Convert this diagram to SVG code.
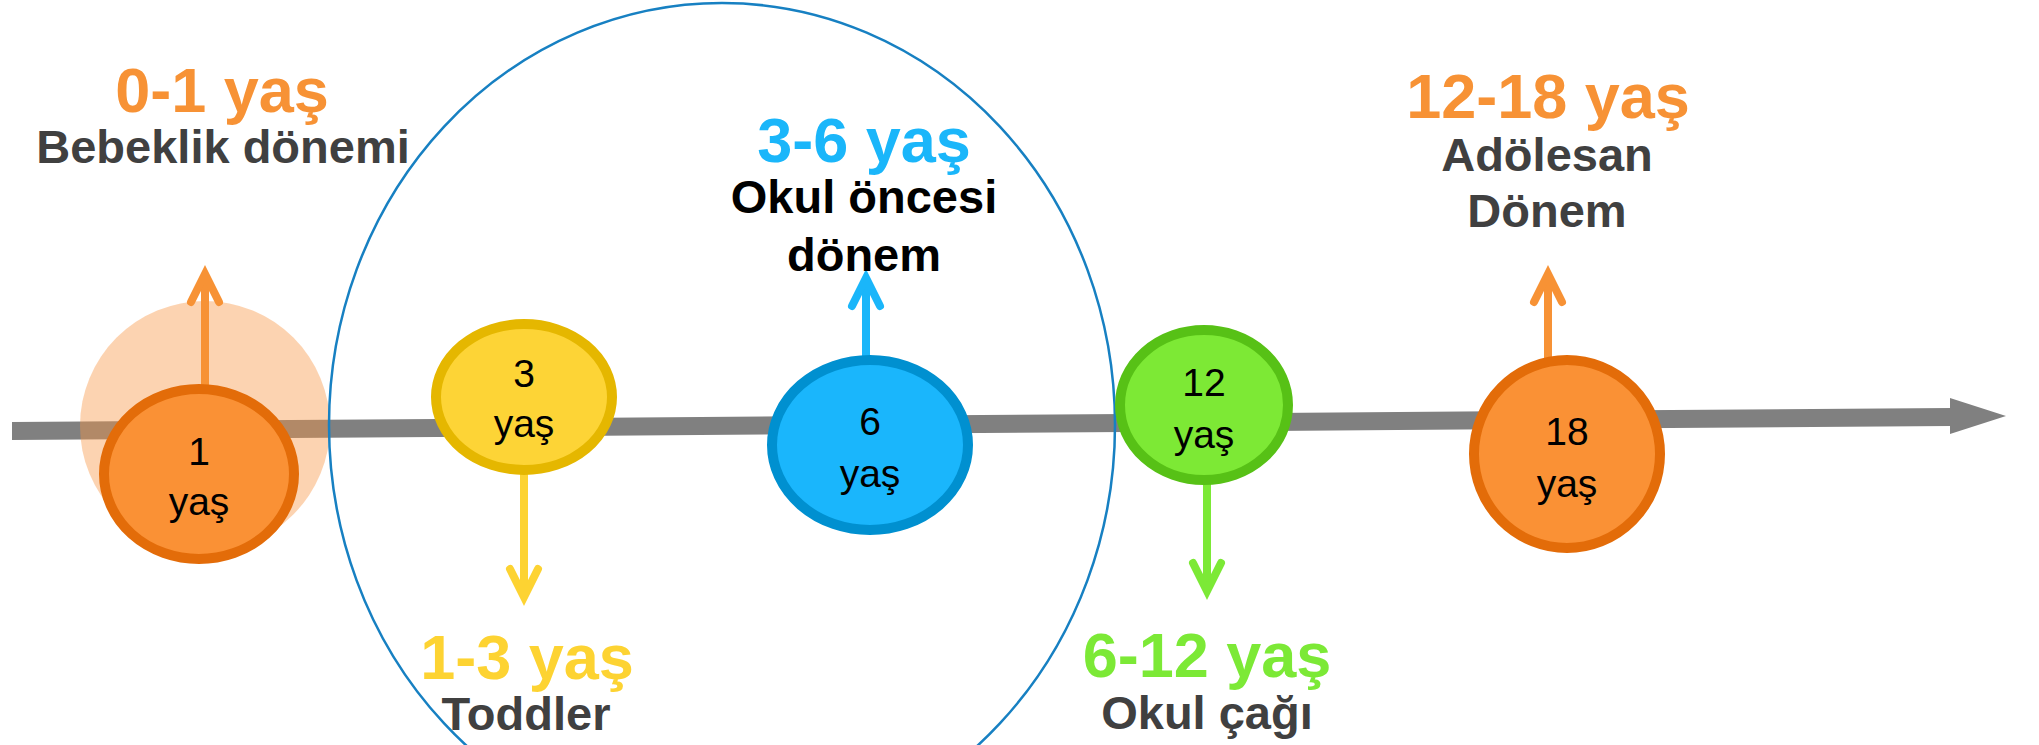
<svg xmlns="http://www.w3.org/2000/svg" width="2039" height="745" viewBox="0 0 2039 745">
  <style>
    text { font-family: "Liberation Sans", Arial, sans-serif; text-anchor: middle; }
    .range { font-size: 63px; font-weight: bold; }
    .title { font-size: 47px; font-weight: bold; fill: #404040; }
    .title.black { fill: #000000; }
    .age { font-size: 39px; fill: #000000; }
    .node { stroke-width: 10; }
    .pointer { fill: none; stroke-width: 8; stroke-linecap: butt; }
    .orange { fill: #F79235; }
    .yellow { fill: #FDD332; }
    .blue { fill: #1AB6FA; }
    .green { fill: #7CE936; }
  </style>
  <defs>
    <marker id="head-orange" markerUnits="userSpaceOnUse" viewBox="-40 -25 50 50" markerWidth="50" markerHeight="50" refX="0" refY="0" orient="auto">
      <path d="M -28 -14 L 0 0 L -28 14" fill="none" stroke="#F79235" stroke-width="8" stroke-linecap="round"/>
    </marker>
    <marker id="head-yellow" markerUnits="userSpaceOnUse" viewBox="-40 -25 50 50" markerWidth="50" markerHeight="50" refX="0" refY="0" orient="auto">
      <path d="M -28 -14 L 0 0 L -28 14" fill="none" stroke="#FDD332" stroke-width="8" stroke-linecap="round"/>
    </marker>
    <marker id="head-blue" markerUnits="userSpaceOnUse" viewBox="-40 -25 50 50" markerWidth="50" markerHeight="50" refX="0" refY="0" orient="auto">
      <path d="M -28 -14 L 0 0 L -28 14" fill="none" stroke="#1AB6FA" stroke-width="8" stroke-linecap="round"/>
    </marker>
    <marker id="head-green" markerUnits="userSpaceOnUse" viewBox="-40 -25 50 50" markerWidth="50" markerHeight="50" refX="0" refY="0" orient="auto">
      <path d="M -28 -14 L 0 0 L -28 14" fill="none" stroke="#7CE936" stroke-width="8" stroke-linecap="round"/>
    </marker>
  </defs>

  <rect width="2039" height="745" fill="#FFFFFF"/>

  <!-- timeline axis -->
  <g id="timeline">
    <path d="M 12 422 L 1951 408 L 1951 426 L 12 440 Z" fill="#808080"/>
    <polygon points="1950,398 2006,416 1950,434" fill="#808080"/>
  </g>

  <!-- soft halo around the first year -->
  <circle id="infancy-halo" cx="205" cy="426" r="125" fill="#F79646" fill-opacity="0.42"/>

  <!-- pre-school outline spanning ages 1 to 12 -->
  <ellipse id="preschool-outline" cx="722" cy="425" rx="393" ry="422" fill="none" stroke="#1780C2" stroke-width="2.5"/>

  <!-- connectors from milestones to their labels -->
  <g id="connectors">
    <path class="pointer" d="M 205 386 V 274" stroke="#F79235" marker-end="url(#head-orange)"/>
    <path class="pointer" d="M 524 472 V 597" stroke="#FDD332" marker-end="url(#head-yellow)"/>
    <path class="pointer" d="M 866 360 V 278" stroke="#1AB6FA" marker-end="url(#head-blue)"/>
    <path class="pointer" d="M 1207 477 V 591" stroke="#7CE936" marker-end="url(#head-green)"/>
    <path class="pointer" d="M 1548 360 V 274" stroke="#F79235" marker-end="url(#head-orange)"/>
  </g>

  <!-- milestone nodes -->
  <g id="node-1">
    <ellipse class="node" cx="199" cy="474" rx="95" ry="85" fill="#FA9135" stroke="#E36C09"/>
    <text class="age" x="199" y="465">1</text>
    <text class="age" x="199" y="515">yaş</text>
  </g>
  <g id="node-3">
    <ellipse class="node" cx="524" cy="397" rx="88" ry="73" fill="#FDD436" stroke="#E5B700"/>
    <text class="age" x="524" y="387">3</text>
    <text class="age" x="524" y="437">yaş</text>
  </g>
  <g id="node-6">
    <ellipse class="node" cx="870" cy="445" rx="98" ry="85" fill="#1AB6FC" stroke="#0090D0"/>
    <text class="age" x="870" y="435">6</text>
    <text class="age" x="870" y="487">yaş</text>
  </g>
  <g id="node-12">
    <ellipse class="node" cx="1204" cy="405" rx="84" ry="75" fill="#7DE935" stroke="#57C116"/>
    <text class="age" x="1204" y="396">12</text>
    <text class="age" x="1204" y="448">yaş</text>
  </g>
  <g id="node-18">
    <ellipse class="node" cx="1567" cy="454" rx="93" ry="94" fill="#FA9135" stroke="#E36C09"/>
    <text class="age" x="1567" y="445">18</text>
    <text class="age" x="1567" y="497">yaş</text>
  </g>

  <!-- period labels -->
  <g id="label-0-1">
    <text class="range orange" x="222" y="112">0-1 yaş</text>
    <text class="title" x="223" y="163">Bebeklik dönemi</text>
  </g>
  <g id="label-1-3">
    <text class="range yellow" x="527" y="679">1-3 yaş</text>
    <text class="title" x="526" y="730">Toddler</text>
  </g>
  <g id="label-3-6">
    <text class="range blue" x="864" y="162">3-6 yaş</text>
    <text class="title black" x="864" y="213">Okul öncesi</text>
    <text class="title black" x="864" y="271">dönem</text>
  </g>
  <g id="label-6-12">
    <text class="range green" x="1207" y="677">6-12 yaş</text>
    <text class="title" x="1207" y="729">Okul çağı</text>
  </g>
  <g id="label-12-18">
    <text class="range orange" x="1548" y="118">12-18 yaş</text>
    <text class="title" x="1547" y="171">Adölesan</text>
    <text class="title" x="1547" y="227">Dönem</text>
  </g>
</svg>
